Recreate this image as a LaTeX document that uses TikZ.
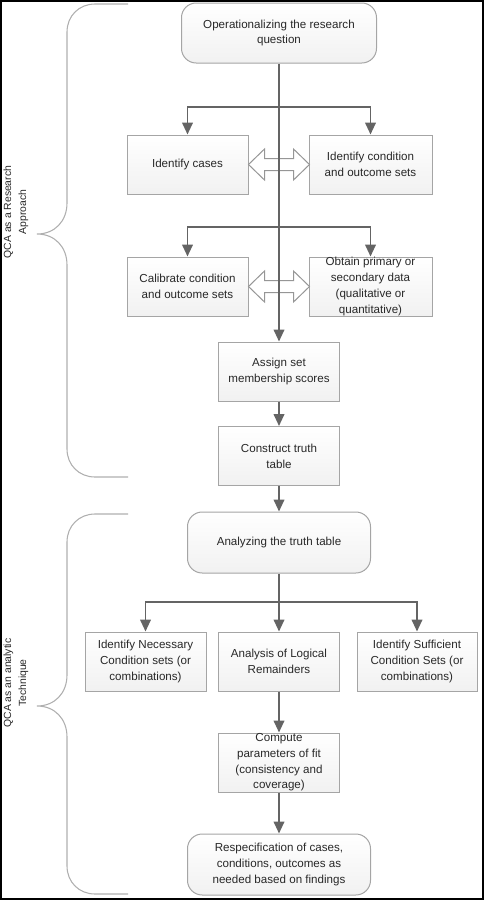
\documentclass[tikz,border=0pt]{standalone}
\usepackage{fontspec}
\setmainfont{Liberation Sans}
\usetikzlibrary{arrows.meta}

\tikzset{every picture/.style={line width=0.75pt}}
\tikzset{
	stepbox/.style={draw={rgb, 255:red, 165; green, 165; blue, 165 }, top color=white, bottom color={rgb, 255:red, 241; green, 241; blue, 241 }, text={rgb, 255:red, 40; green, 40; blue, 40 }, font=\fontsize{8.7}{11.8}\selectfont, align=center, inner sep=0pt, minimum width=90.75pt, minimum height=44.25pt},
	roundbox/.style={stepbox, rounded corners=11pt, minimum width=137.25pt, minimum height=45.75pt},
	flow/.style={draw={rgb, 255:red, 100; green, 100; blue, 100 }, line width=1.4pt, -{Triangle[length=9pt,width=8pt]}},
	dblarrow/.style={draw={rgb, 255:red, 150; green, 150; blue, 150 }, fill=white, line width=0.75pt, line join=miter},
	brace/.style={draw={rgb, 255:red, 175; green, 175; blue, 175 }, line width=0.8pt},
	sidelabel/.style={rotate=90, align=center, text={rgb, 255:red, 40; green, 40; blue, 40 }, font=\fontsize{7.8}{11.2}\selectfont}}

\begin{document}
\begin{tikzpicture}[x=0.75pt,y=0.75pt,yscale=-1,xscale=1]
	\useasboundingbox (0,0) rectangle (484,900);
	%Shape: Frame
	\draw [line width=1.5pt] (1,1) rectangle (483,899);

	%Shape: Brace upper
	\draw [brace] (128,4) -- (95,4) .. controls (79,4) and (67,16) .. (67,32) -- (67,203) .. controls (67,221) and (55,234) .. (37,234) .. controls (55,234) and (67,247) .. (67,265) -- (67,449) .. controls (67,465) and (79,477) .. (95,477) -- (128,477) ;
	%Shape: Brace lower
	\draw [brace] (128,514) -- (95,514) .. controls (79,514) and (67,526) .. (67,542) -- (67,675) .. controls (67,693) and (55,706) .. (37,706) .. controls (55,706) and (67,719) .. (67,737) -- (67,866) .. controls (67,882) and (79,894) .. (95,894) -- (128,894) ;

	% Text Node
	\node [sidelabel] (lblres) at (16,212) {QCA as a Research\\Approach};
	% Text Node
	\node [sidelabel] (lbltech) at (16,683) {QCA as an analytic\\Technique};

	%Shape: Boxes
	\node [roundbox, minimum width=146.25pt, minimum height=45pt] (oper) at (279,33) {Operationalizing the research\\question};
	\node [stepbox] (cases) at (187.5,164.5) {Identify cases};
	\node [stepbox, minimum width=92.25pt] (condsets) at (370.5,164.5) {Identify condition\\and outcome sets};
	\node [stepbox] (calib) at (187.5,286.5) {Calibrate condition\\and outcome sets};
	\node [stepbox, minimum width=92.25pt] (obtain) at (370.5,286.5) {Obtain primary or\\secondary data\\(qualitative or\\quantitative)};
	\node [stepbox] (assign) at (279,371.5) {Assign set\\membership scores};
	\node [stepbox] (truth) at (279,456) {Construct truth\\table};
	\node [roundbox] (analyze) at (279,542.5) {Analyzing the truth table};
	\node [stepbox] (necess) at (145.5,661.5) {Identify Necessary\\Condition sets (or\\combinations)};
	\node [stepbox] (logic) at (279,661.5) {Analysis of Logical\\Remainders};
	\node [stepbox, minimum width=90pt] (suffic) at (417,661.5) {Identify Sufficient\\Condition Sets (or\\combinations)};
	\node [stepbox] (compute) at (279,762.5) {Compute\\parameters of fit\\(consistency and\\coverage)};
	\node [roundbox] (respec) at (279,864.5) {Respecification of cases,\\conditions, outcomes as\\needed based on findings};

	%Double Arrow
	\draw [dblarrow] (cases.east) -- ++(16,-15.5) -- ++(0,9.5) -- ++(29,0) -- ++(0,-9.5) -- ++(16,15.5) -- ++(-16,15.5) -- ++(0,-9.5) -- ++(-29,0) -- ++(0,9.5) -- cycle ;
	%Double Arrow
	\draw [dblarrow] (calib.east) -- ++(16,-15.5) -- ++(0,9.5) -- ++(29,0) -- ++(0,-9.5) -- ++(16,15.5) -- ++(-16,15.5) -- ++(0,-9.5) -- ++(-29,0) -- ++(0,9.5) -- cycle ;

	\coordinate (fork1) at (279,107);
	\coordinate (fork2) at (279,227);
	\coordinate (fork3) at (279,602);

	% Connectors
	\draw [flow] (oper) -- (assign);
	\draw [flow] (fork1) -| (cases);
	\draw [flow] (fork1) -| (condsets);
	\draw [flow] (fork2) -| (calib);
	\draw [flow] (fork2) -| (obtain);
	\draw [flow] (assign) -- (truth);
	\draw [flow] (truth) -- (analyze);
	\draw [flow] (analyze) -- (logic);
	\draw [flow] (fork3) -| (necess);
	\draw [flow] (fork3) -| (suffic);
	\draw [flow] (logic) -- (compute);
	\draw [flow] (compute) -- (respec);

\end{tikzpicture}
\end{document}
